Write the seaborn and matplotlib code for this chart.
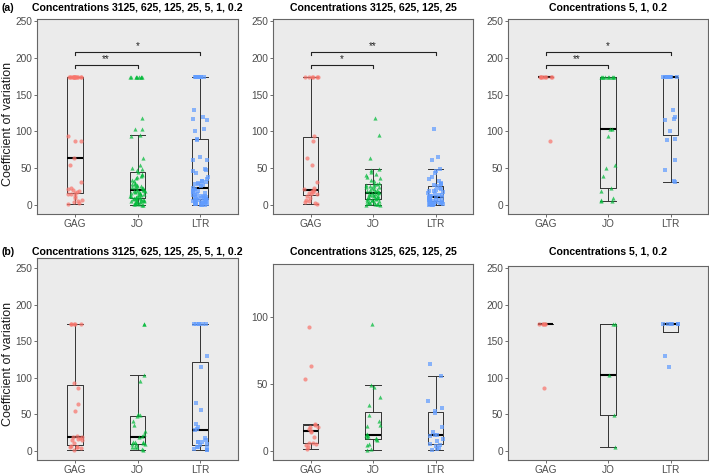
import numpy as np
import pandas as pd
import matplotlib
matplotlib.use('Agg')
from matplotlib import pyplot as plt
import seaborn as sns

groups = ['GAG', 'JO', 'LTR']
colors = {'GAG': '#F8766D', 'JO': '#00BA38', 'LTR': '#619CFF'}
markers = {'GAG': 'o', 'JO': '^', 'LTR': 's'}
cv_max = 173.2  # sqrt(3)*100, CV ceiling for triplicates

# ---- (a) concentrations 3125, 625, 125, 25
a_high_gag = [1.0, 2.4, 3.8, 5.1, 6.5, 9.7, 12.8, 14.2, 15.3, 16.8, 17.9, 19.1, 20.2,
              21.3, 22.6, 31.8, 54.1, 63.7, 87.5, 93.4] + [cv_max] * 6
a_high_jo = [0.3, 0.5, 0.9, 1.4, 1.7, 2.6, 3.1, 3.9, 4.4, 5.2, 5.9, 6.6, 7.3, 8.0,
             8.5, 8.8, 9.4, 9.9, 10.6, 11.2, 11.7, 12.5, 13.1, 13.8, 14.6, 15.2, 15.9, 16.5,
             17.1, 17.7, 18.4, 19.3, 20.1, 20.8, 21.9, 22.6, 23.8, 24.5, 25.3, 26.4, 27.2, 28.0,
             29.1, 30.5, 32.4, 33.7, 36.2, 38.0, 40.7, 42.5, 44.9, 47.3, 48.9, 64.0, 95.5, 118.5]
a_high_ltr = [0.2, 0.3, 0.6, 0.9, 1.3, 1.6, 2.0, 2.4, 2.9, 3.3, 3.8, 4.2, 4.6, 4.9,
              5.2, 5.6, 6.1, 6.7, 7.2, 7.6, 8.1, 8.7, 9.2, 9.8, 10.3, 10.8, 11.1,
              11.6, 12.4, 13.3, 14.1, 15.0, 16.2, 17.3, 18.5, 19.6, 20.8, 22.1, 23.5, 25.2,
              26.5, 27.8, 29.0, 30.1, 32.0, 35.0, 38.0, 44.0, 46.0, 49.4, 61.0, 65.7, 102.8]

# ---- (a) concentrations 5, 1, 0.2
a_low_gag = [87.0] + [cv_max] * 8
a_low_jo = [5.0, 5.7, 7.2, 10.0, 18.6, 23.0, 39.0, 50.7, 54.0, 93.3, 103.0, 103.0] + [cv_max] * 9
a_low_ltr = [31.0, 32.2, 47.5, 61.0, 88.8, 89.7, 100.5, 115.0, 116.4, 119.0, 129.5] + [cv_max] * 12

# ---- (b) concentrations 3125, 625, 125, 25
b_high_gag = [1.3, 3.0, 4.5, 5.0, 5.5, 6.0, 10.0, 14.0, 15.0, 16.0, 17.5, 18.0, 19.0, 20.0,
              53.9, 63.8, 93.0]
b_high_jo = [0.7, 1.5, 4.2, 5.0, 8.3, 9.0, 9.6, 10.2, 11.0, 11.7, 12.3, 18.8, 19.5, 22.4,
             27.0, 34.4, 40.4, 48.0, 49.5, 95.0]
b_high_ltr = [0.7, 1.0, 2.0, 3.5, 4.5, 5.0, 7.0, 9.0, 11.0, 11.5, 12.0, 14.0, 17.5, 28.0,
              29.4, 32.0, 37.0, 56.0, 65.0]

# ---- (b) concentrations 5, 1, 0.2
b_low_gag = [86.4] + [cv_max] * 5
b_low_jo = [5.0, 49.0, 103.0, cv_max, cv_max]
b_low_ltr = [114.0, 130.0] + [cv_max] * 6

titles = ['Concentrations 3125, 625, 125, 25, 5, 1, 0.2',
          'Concentrations 3125, 625, 125, 25',
          'Concentrations 5, 1, 0.2']

# significance brackets for row (a): pairs, heights, labels per panel
sig_pairs = [('GAG', 'JO'), ('GAG', 'LTR')]
sig_heights = [190, 208]
sig_labels = [['**', '*'], ['*', '**'], ['**', '*']]

panels_a = [
    {'GAG': a_high_gag + a_low_gag, 'JO': a_high_jo + a_low_jo, 'LTR': a_high_ltr + a_low_ltr},
    {'GAG': a_high_gag, 'JO': a_high_jo, 'LTR': a_high_ltr},
    {'GAG': a_low_gag, 'JO': a_low_jo, 'LTR': a_low_ltr},
]
panels_b = [
    {'GAG': b_high_gag + b_low_gag, 'JO': b_high_jo + b_low_jo, 'LTR': b_high_ltr + b_low_ltr},
    {'GAG': b_high_gag, 'JO': b_high_jo, 'LTR': b_high_ltr},
    {'GAG': b_low_gag, 'JO': b_low_jo, 'LTR': b_low_ltr},
]

plt.rcParams['font.family'] = ['Liberation Sans', 'DejaVu Sans']
W, H = 709, 476
fig = plt.figure(figsize=(W / 100, H / 100), dpi=100)


def px_box(l, t, r, b):
    return [l / W, 1 - b / H, (r - l) / W, (b - t) / H]


def draw_panel(ax, d, ylim, yticks):
    df = pd.DataFrame([(g, v) for g in groups for v in d[g]], columns=['group', 'cv'])
    ax.set_facecolor('#EBEBEB')
    for g in groups:
        sns.stripplot(data=df[df.group == g], x='group', y='cv', order=groups,
                      color=colors[g], marker=markers[g], size=3.0, jitter=0.12,
                      alpha=0.72, linewidth=0, ax=ax)
    sns.boxplot(data=df, x='group', y='cv', order=groups, width=0.25, fill=False,
                color='#333333', linewidth=0.7, showfliers=False, whis=1.5,
                medianprops=dict(color='black', linewidth=1.5), capwidths=0.25, ax=ax)
    ax.set_xlim(-0.6, 2.6)
    ax.set_ylim(*ylim)
    ax.set_yticks(yticks)
    ax.set_xlabel('')
    ax.set_ylabel('')
    ax.tick_params(length=2.5, width=0.6, color='#555555', labelcolor='#4D4D4D',
                   labelsize=7.3, pad=1.0)
    for s in ax.spines.values():
        s.set_color('#666666')
        s.set_linewidth(0.8)


np.random.seed(7)
a_boxes = [(37, 19, 238, 214), (273, 19, 473, 214), (508, 19, 708, 214)]
b_boxes = [(37, 258, 238, 460), (273, 264, 473, 460), (508, 266, 708, 460)]
b_ylims = [(-13.0, 264.0), (-7.0, 139.9), (-13.0, 253.1)]
b_ticks = [[0, 50, 100, 150, 200, 250], [0, 50, 100], [0, 50, 100, 150, 200, 250]]

for i in range(3):
    ax = fig.add_axes(px_box(*a_boxes[i]))
    draw_panel(ax, panels_a[i], (-12.3, 252.7), [0, 50, 100, 150, 200, 250])
    for (g1, g2), h, lab in zip(sig_pairs, sig_heights, sig_labels[i]):
        x1, x2 = groups.index(g1), groups.index(g2)
        ax.plot([x1, x1, x2, x2], [h - 4.5, h, h, h - 4.5], color='#222222', lw=0.8)
        ax.text((x1 + x2) / 2, h + 1, lab, ha='center', va='bottom', fontsize=7, color='#222222')
    l, t, r, b = a_boxes[i]
    fig.text((l + r) / 2 / W, 1 - 8 / H, titles[i], ha='center', va='center',
             fontsize=7.6, fontweight='bold')

for i in range(3):
    ax = fig.add_axes(px_box(*b_boxes[i]))
    draw_panel(ax, panels_b[i], b_ylims[i], b_ticks[i])
    l, t, r, b = b_boxes[i]
    fig.text((l + r) / 2 / W, 1 - 252 / H, titles[i], ha='center', va='center',
             fontsize=7.6, fontweight='bold')

fig.text(2 / W, 1 - 8 / H, '(a)', ha='left', va='center', fontsize=7.6, fontweight='bold')
fig.text(2 / W, 1 - 252 / H, '(b)', ha='left', va='center', fontsize=7.6, fontweight='bold')
fig.text(8.5 / W, 1 - 124 / H, 'Coefficient of variation', rotation=90, ha='center',
         va='center', fontsize=9, color='#1A1A1A')
fig.text(8.5 / W, 1 - 364 / H, 'Coefficient of variation', rotation=90, ha='center',
         va='center', fontsize=9, color='#1A1A1A')

fig.savefig('out.png', dpi=100)
